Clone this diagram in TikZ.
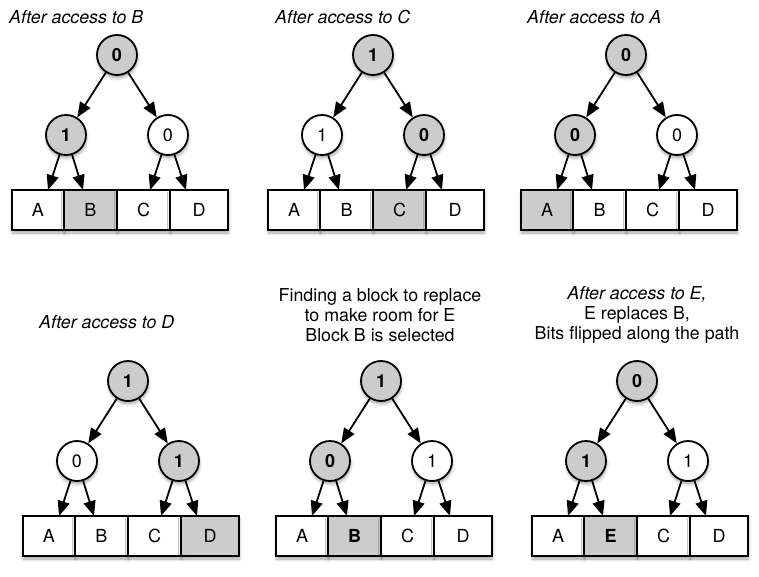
\documentclass[tikz,border=0pt]{standalone}
\usepackage{fontspec}
\setmainfont{TeX Gyre Heros}
\usetikzlibrary{arrows.meta,shadows.blur}
\definecolor{nodegray}{RGB}{204,204,204}
\tikzset{
  shd/.style={blur shadow={shadow xshift=0.5pt,shadow yshift=-3pt,shadow blur radius=3pt,shadow opacity=35}},
  circ/.style={circle,draw=black,line width=1.8pt,minimum size=40pt,inner sep=0pt,shd,font=\fontsize{18}{20}\selectfont},
  gc/.style={circ,fill=nodegray,font=\fontsize{18}{20}\selectfont\bfseries},
  wc/.style={circ,fill=white},
  bxs/.style={rectangle,draw=black,line width=1.8pt,minimum height=40pt,inner sep=0pt,shd,font=\fontsize{18}{20}\selectfont},
  wb/.style={bxs,fill=white},
  gb/.style={bxs,fill=nodegray},
  gbb/.style={gb,font=\fontsize{18}{20}\selectfont\bfseries},
  arr/.style={line width=1.8pt,-{Triangle[length=15pt,width=12pt]}},
  ttl/.style={font=\fontsize{17.8}{20}\selectfont,align=center,inner sep=0pt}
}
\newcommand\bx[9]{%
  \node[#2,minimum width=52pt] (#1a) at (-79,155) {#3};
  \node[#4,minimum width=53pt] (#1b) at (-26.5,155) {#5};
  \node[#6,minimum width=53pt] (#1c) at (26.5,155) {#7};
  \node[#8,minimum width=58pt] (#1d) at (82,155) {#9};
}
\newcommand\tree[9]{%
  \begin{scope}[shift={#2}]
  #9
  \node[#3] (#1r) at (0,0) {#4};
  \node[#5] (#1l) at (-51,80) {#6};
  \node[#7] (#1q) at (51,80) {#8};
  \coordinate (#1la) at (-69,135);
  \coordinate (#1lb) at (-34,135);
  \coordinate (#1qa) at (33,135);
  \coordinate (#1qb) at (69,135);
  \draw[arr] (#1r) -- (#1l);
  \draw[arr] (#1r) -- (#1q);
  \draw[arr] (#1l) -- (#1la);
  \draw[arr] (#1l) -- (#1lb);
  \draw[arr] (#1q) -- (#1qa);
  \draw[arr] (#1q) -- (#1qb);
  \end{scope}}
\begin{document}
\begin{tikzpicture}[x=1pt,y=-1pt]
\useasboundingbox (0,0) rectangle (759,577);
% titles
\node[ttl,anchor=west] (t1) at (9,17) {\itshape After access to B};
\node[ttl,anchor=west] (t2) at (275,17) {\itshape After access to C};
\node[ttl,anchor=west] (t3) at (527,17) {\itshape After access to A};
\node[ttl,anchor=west] (t4) at (39,322) {\itshape After access to D};
\node[ttl] (t5) at (380,315) {Finding a block to replace\\to make room for E\\Block B is selected};
\node[ttl] (t6) at (637,315) {\itshape After access to E,\\E replaces B,\\Bits flipped along the path};
% panels
\tree{p}{(117,55)}{gc}{0}{gc}{1}{wc}{0}{\bx{p}{wb}{A}{gb}{B}{wb}{C}{wb}{D}}
\tree{q}{(373,55)}{gc}{1}{wc}{1}{gc}{0}{\bx{q}{wb}{A}{wb}{B}{gb}{C}{wb}{D}}
\tree{s}{(626,55)}{gc}{0}{gc}{0}{wc}{0}{\bx{s}{gb}{A}{wb}{B}{wb}{C}{wb}{D}}
\tree{u}{(128,381)}{gc}{1}{wc}{0}{gc}{1}{\bx{u}{wb}{A}{wb}{B}{wb}{C}{gb}{D}}
\tree{v}{(381,381)}{gc}{1}{gc}{0}{wc}{1}{\bx{v}{wb}{A}{gbb}{B}{wb}{C}{wb}{D}}
\tree{w}{(637,381)}{gc}{0}{gc}{1}{wc}{1}{\bx{w}{wb}{A}{gbb}{E}{wb}{C}{wb}{D}}
\end{tikzpicture}
\end{document}
